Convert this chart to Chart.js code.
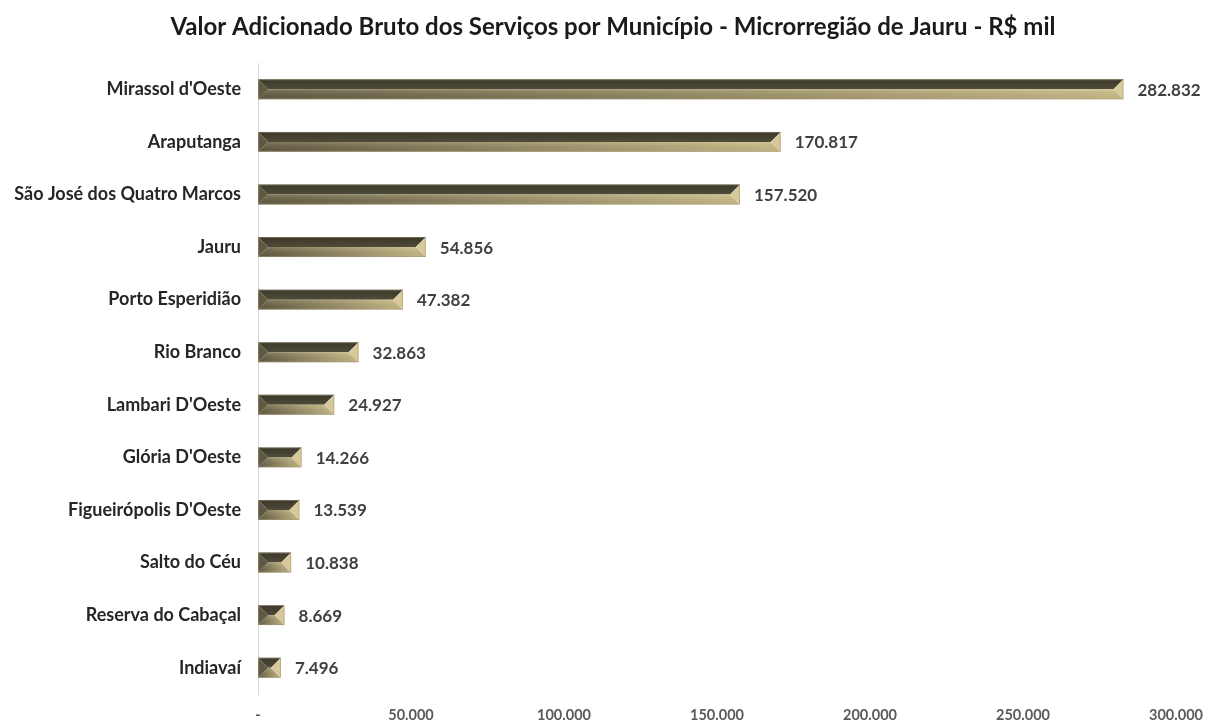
<!DOCTYPE html>
<html><head><meta charset="utf-8">
<script src="https://cdn.jsdelivr.net/npm/chart.js@4.4.1/dist/chart.umd.min.js"></script>
<style>html,body{margin:0;padding:0;background:#fff}#wrap{width:1205px;height:723px}</style>
</head><body><div id="wrap"><canvas id="c" width="1205" height="723"></canvas></div>
<script>
const categories = ["Mirassol d'Oeste","Araputanga","São José dos Quatro Marcos","Jauru","Porto Esperidião","Rio Branco","Lambari D'Oeste","Glória D'Oeste","Figueirópolis D'Oeste","Salto do Céu","Reserva do Cabaçal","Indiavaí"];
const values = [282832,170817,157520,54856,47382,32863,24927,14266,13539,10838,8669,7496];
const xTicks = [0,50000,100000,150000,200000,250000,300000];
const titleText = "Valor Adicionado Bruto dos Serviços por Município - Microrregião de Jauru - R$ mil";
const FONT = "Lato, 'DejaVu Sans', sans-serif";

function fmt(v){ return v===0 ? "-" : v.toString().replace(/\B(?=(\d{3})+(?!\d))/g, "."); }

const titlePlugin = {
  id:'ctitle',
  afterDraw(chart){
    const ctx = chart.ctx;
    ctx.save();
    ctx.font = "bold 24px " + FONT;
    ctx.fillStyle = '#1a1a1a';
    ctx.textAlign = 'center';
    ctx.textBaseline = 'middle';
    ctx.fillText(titleText, 613, 27);
    ctx.restore();
  }
};

const bevelPlugin = {
  id:'bevel',
  afterDatasetsDraw(chart){
    const ctx = chart.ctx;
    const meta = chart.getDatasetMeta(0);
    meta.data.forEach((el, i) => {
      const xL = el.base, xR = el.x, t = el.y - el.height/2, b = el.y + el.height/2, m = el.y;
      const w = Math.min(el.height/2, (xR-xL)/2);
      ctx.save();
      let g = ctx.createLinearGradient(0,t,0,m);
      g.addColorStop(0,'#3a3829'); g.addColorStop(1,'#4f4b39');
      ctx.fillStyle = g;
      ctx.beginPath(); ctx.moveTo(xL,t); ctx.lineTo(xR,t); ctx.lineTo(xR-w,m); ctx.lineTo(xL+w,m); ctx.closePath(); ctx.fill();
      g = ctx.createLinearGradient(xL,0,xR,0);
      g.addColorStop(0,'#625b43'); g.addColorStop(1,'#cdbf8c');
      ctx.fillStyle = g;
      ctx.beginPath(); ctx.moveTo(xL,b); ctx.lineTo(xR,b); ctx.lineTo(xR-w,m); ctx.lineTo(xL+w,m); ctx.closePath(); ctx.fill();
      g = ctx.createLinearGradient(0,m,0,b);
      g.addColorStop(0,'rgba(255,245,200,0.2)'); g.addColorStop(1,'rgba(0,0,0,0.04)');
      ctx.fillStyle = g;
      ctx.beginPath(); ctx.moveTo(xL,b); ctx.lineTo(xR,b); ctx.lineTo(xR-w,m); ctx.lineTo(xL+w,m); ctx.closePath(); ctx.fill();
      ctx.fillStyle = '#5f5944';
      ctx.beginPath(); ctx.moveTo(xL,t); ctx.lineTo(xL+w,m); ctx.lineTo(xL,b); ctx.closePath(); ctx.fill();
      ctx.fillStyle = '#d8c99a';
      ctx.beginPath(); ctx.moveTo(xR,t); ctx.lineTo(xR-w,m); ctx.lineTo(xR,b); ctx.closePath(); ctx.fill();
      ctx.strokeStyle = 'rgba(160,150,120,0.55)'; ctx.lineWidth = 1;
      ctx.strokeRect(xL+0.5, t+0.5, xR-xL-1, b-t-1);
      ctx.restore();
      ctx.save();
      ctx.font = "bold 17px " + FONT;
      ctx.fillStyle = '#404040';
      ctx.textBaseline = 'middle';
      ctx.textAlign = 'left';
      ctx.fillText(fmt(values[i]), xR + 14, m + 1);
      ctx.restore();
    });
  }
};

new Chart(document.getElementById('c'), {
  type:'bar',
  data:{ labels:categories, datasets:[{ data:values, backgroundColor:'rgba(0,0,0,0)', borderWidth:0, barPercentage:0.38, categoryPercentage:1 }] },
  options:{
    indexAxis:'y', responsive:false, animation:false,
    layout:{ padding:{ left:0, right:29, top:63, bottom:0 } },
    plugins:{ legend:{display:false}, tooltip:{enabled:false}, title:{display:false} },
    scales:{
      x:{ min:0, max:300000, afterBuildTicks(s){ s.ticks = xTicks.map(v=>({value:v})); },
        grid:{display:false, drawTicks:false}, border:{display:false},
        ticks:{ callback:(v)=>fmt(v), color:'#595959', font:{family:FONT, size:14.5, weight:'bold'}, padding:13, maxRotation:0 },
        afterFit(s){ s.height = 29; s.paddingLeft = 0; s.paddingRight = 0; } },
      y:{ grid:{display:false, drawTicks:false}, border:{display:true, color:'#d9d9d9', width:1},
        ticks:{ color:'#262626', font:{family:FONT, size:18, weight:'bold'}, padding:17 },
        afterFit(s){ s.width = 258; s.paddingTop = 0; s.paddingBottom = 0; } }
    }
  },
  plugins:[bevelPlugin, titlePlugin]
});
</script></body></html>
